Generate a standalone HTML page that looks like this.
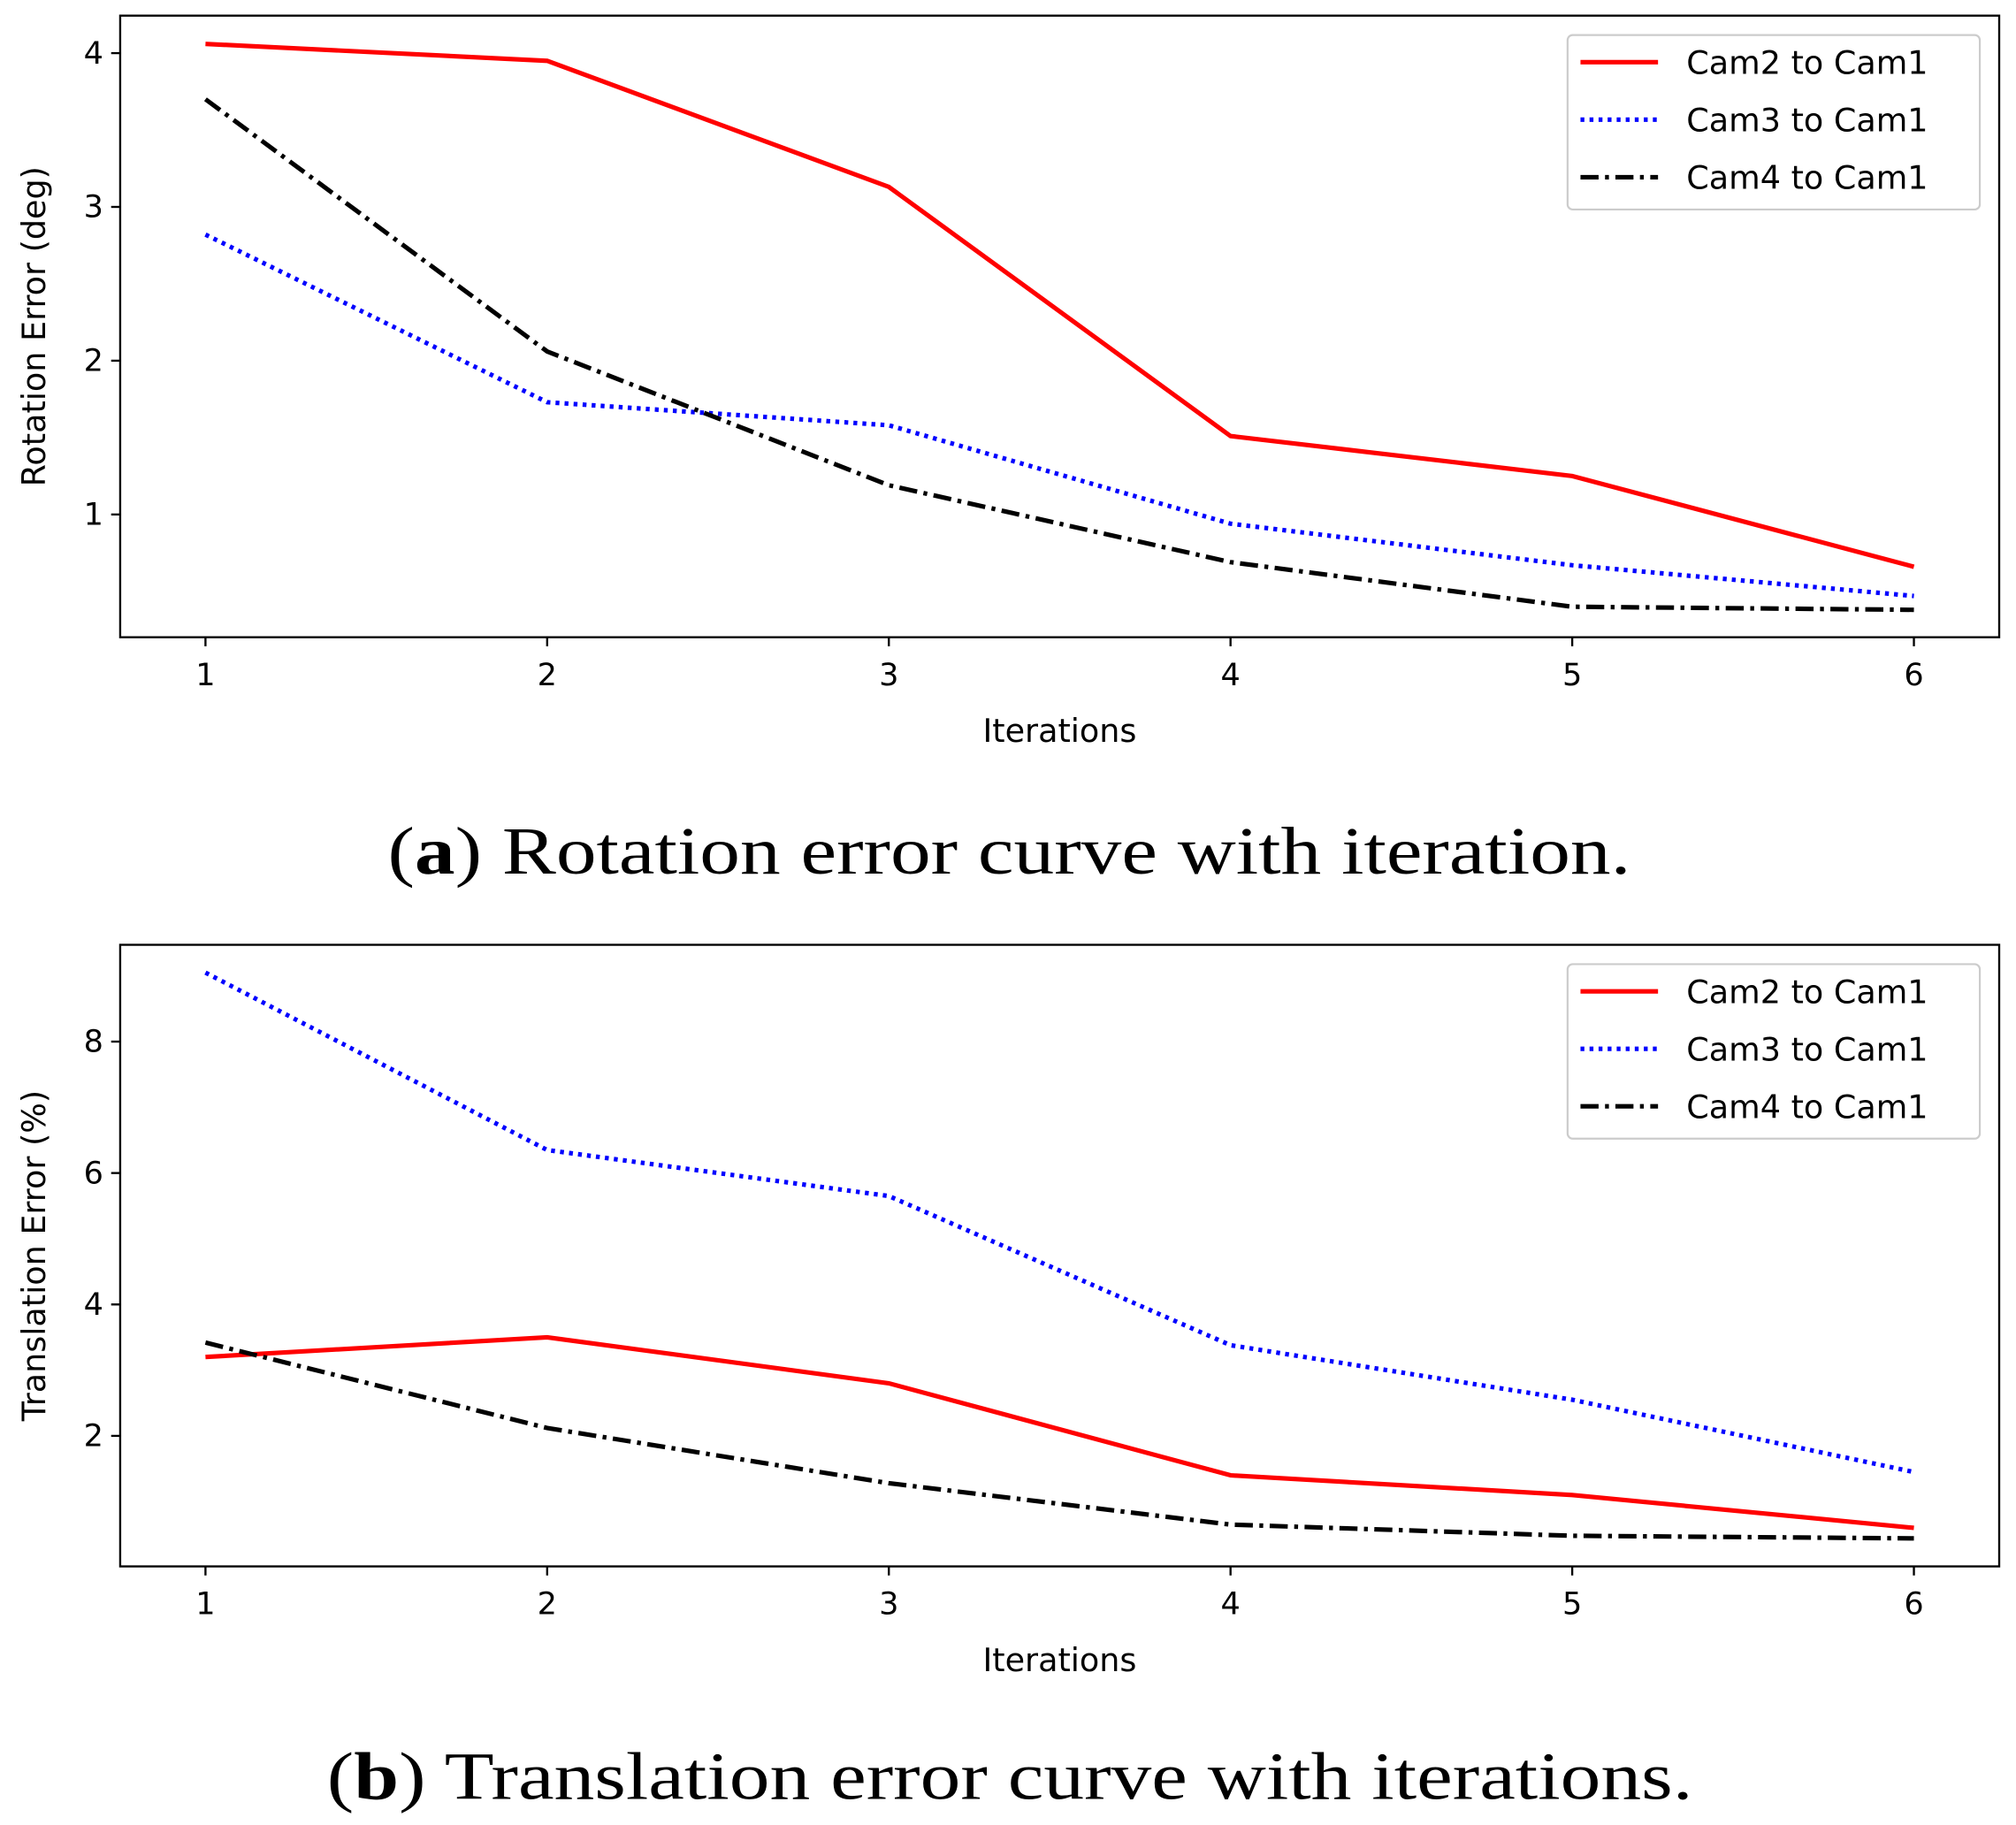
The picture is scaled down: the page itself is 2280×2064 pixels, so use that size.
<!DOCTYPE html>
<html><head><meta charset="utf-8">
<style>
html,body{margin:0;padding:0;background:#fff;}
svg{display:block;}
text{font-family:"DejaVu Sans","Liberation Sans",sans-serif;}
.cap{font-family:"Liberation Serif",serif;}
</style></head>
<body>
<svg id="fig" width="2280" height="2064" viewBox="0 0 1560 1412" xmlns="http://www.w3.org/2000/svg">
<text class="cap" x="300" y="676" font-size="52" textLength="962" lengthAdjust="spacingAndGlyphs">(<tspan font-weight="bold">a</tspan>) Rotation error curve with iteration.</text>
<text class="cap" x="253" y="1392" font-size="52" textLength="1057" lengthAdjust="spacingAndGlyphs">(<tspan font-weight="bold">b</tspan>) Translation error curve with iterations.</text>
</svg>
<script>
const iterations=[1,2,3,4,5,6];
const seriesNames=["Cam2 to Cam1","Cam3 to Cam1","Cam4 to Cam1"];
const rotCam2=[4.06,3.95,3.13,1.51,1.25,0.66];
const rotCam3=[2.82,1.73,1.58,0.94,0.67,0.47];
const rotCam4=[3.70,2.06,1.19,0.69,0.40,0.38];
const rotTicks=[1,2,3,4];
const trCam2=[3.2,3.5,2.8,1.4,1.1,0.6];
const trCam3=[9.05,6.35,5.65,3.38,2.55,1.45];
const trCam4=[3.42,2.12,1.28,0.65,0.48,0.44];
const trTicks=[2,4,6,8];

const NS="http://www.w3.org/2000/svg";
const svg=document.getElementById('fig');
function mk(tag,attrs,parent){const e=document.createElementNS(NS,tag);for(const k in attrs)e.setAttribute(k,attrs[k]);(parent||svg).appendChild(e);return e;}
const styles=[{stroke:'#ff0000',dash:''},{stroke:'#0000ff',dash:'3,4'},{stroke:'#000000',dash:'14,5,3,5'}];

function chart(o){
  const g=mk('g',{});
  
  
  const x=v=>o.x0+(v-1)*(o.x1-o.x0)/5;
  const y=v=>o.yZero-v*o.yUnit;
  const box=mk('rect',{x:93,y:o.top,width:1454,height:o.bottom-o.top,fill:'none',stroke:'#000','stroke-width':1.6},g);
  
  
  iterations.forEach(v=>{
    mk('line',{x1:x(v),x2:x(v),y1:o.bottom,y2:o.bottom+7,stroke:'#000','stroke-width':1.6},g);
    const t=mk('text',{x:x(v),y:o.bottom+37,'text-anchor':'middle','font-size':24},g);
    t.textContent=v;
    
    
  });
  o.ticks.forEach(v=>{
    mk('line',{x1:93,x2:86,y1:y(v),y2:y(v),stroke:'#000','stroke-width':1.6},g);
    const t=mk('text',{x:80,y:y(v)+8,'text-anchor':'end','font-size':24},g);
    t.textContent=v;
    
    
  });
  const xt=mk('text',{x:820,y:o.bottom+81,'text-anchor':'middle','font-size':25},g);
  xt.textContent='Iterations';
  
  
  const cy=(o.top+o.bottom)/2;
  const yt=mk('text',{x:0,y:0,'text-anchor':'middle','font-size':25,transform:`translate(35,${cy}) rotate(-90)`},g);
  yt.textContent=o.ylabel;
  
  
  o.series.forEach((s,i)=>{
    const p=mk('polyline',{points:s.map((v,j)=>x(iterations[j])+','+y(v)).join(' '),fill:'none',stroke:styles[i].stroke,'stroke-width':3.5,'stroke-dasharray':styles[i].dash},g);
    
    
  });
  const lg=mk('g',{},g);
  
  
  mk('rect',{x:1213,y:o.top+15,width:319,height:135,rx:4,fill:'#fff',stroke:'#ccc','stroke-width':1.5},lg);
  seriesNames.forEach((n,i)=>{
    const ly=o.top+36+i*44.5;
    mk('line',{x1:1223,x2:1283,y1:ly,y2:ly,stroke:styles[i].stroke,'stroke-width':3.5,'stroke-dasharray':styles[i].dash},lg);
    const t=mk('text',{x:1305,y:ly+9,'font-size':25},lg);
    t.textContent=n;
    
    
  });
}
chart({name:'rotation-chart',top:12,bottom:493,x0:159,x1:1481,yZero:517,yUnit:119,ticks:rotTicks,ylabel:'Rotation Error (deg)',series:[rotCam2,rotCam3,rotCam4]});
chart({name:'translation-chart',top:731,bottom:1212,x0:159,x1:1481,yZero:1212.7,yUnit:50.85,ticks:trTicks,ylabel:'Translation Error (%)',series:[trCam2,trCam3,trCam4]});
</script>
</body></html>
